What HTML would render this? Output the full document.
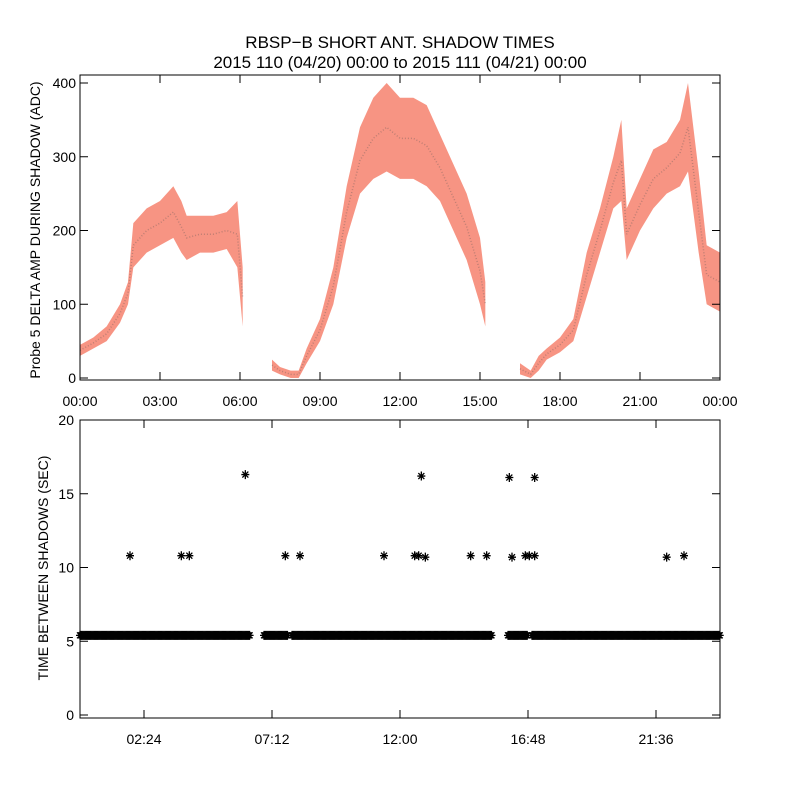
<!DOCTYPE html>
<html><head><meta charset="utf-8"><style>
body{margin:0;background:#fff}
svg text{font-family:"Liberation Sans",sans-serif;fill:#000}
</style></head><body>
<svg id="c" width="800" height="800" xmlns="http://www.w3.org/2000/svg">
<rect width="800" height="800" fill="#fff"/>
<text x="400" y="48" font-size="17" text-anchor="middle">RBSP−B SHORT ANT. SHADOW TIMES</text>
<text x="400" y="68" font-size="17" text-anchor="middle">2015 110 (04/20) 00:00 to 2015 111 (04/21) 00:00</text>
<g id="topg"></g>
<g id="botg"></g>
<text transform="translate(40,230) rotate(-90)" font-size="14" text-anchor="middle">Probe 5 DELTA AMP DURING SHADOW (ADC)</text>
<text transform="translate(48,568) rotate(-90)" font-size="14" text-anchor="middle">TIME BETWEEN SHADOWS (SEC)</text>
</svg>
<script>
const segA_t=[0,0.5,1,1.5,1.8,2.0,2.5,3.0,3.5,3.8,4.0,4.5,5.0,5.5,5.9,6.1];
const segA_lo=[30,40,50,75,100,150,170,180,190,170,160,170,170,175,150,70];
const segA_hi=[45,55,70,100,130,210,230,240,260,240,220,220,220,225,240,150];
const segB_t=[7.2,7.5,7.9,8.2,8.5,9,9.5,10,10.5,11,11.5,12,12.5,13,13.5,14,14.5,15,15.2];
const segB_lo=[10,5,0,0,20,50,100,190,250,270,280,270,270,260,240,200,160,100,70];
const segB_hi=[25,15,10,10,40,80,150,260,340,380,400,380,380,370,330,290,250,190,130];
const segC_t=[16.5,16.9,17.2,17.5,18,18.5,19,19.5,20,20.3,20.5,21,21.5,22,22.5,22.8,23.2,23.5,24];
const segC_lo=[5,0,10,25,35,50,110,170,230,240,160,200,230,250,260,280,170,100,90];
const segC_hi=[20,10,30,40,55,80,170,230,300,350,230,270,310,320,350,400,280,180,170];
const topYTicks=[0,100,200,300,400];
const topXTicks=["00:00","03:00","06:00","09:00","12:00","15:00","18:00","21:00","00:00"];
const baseVal=5.4;
const baseSegStart=[0,6.9,7.95,16.05,16.95];
const baseSegEnd=[6.4,7.8,15.45,16.8,24];
const outT=[1.875,3.8,4.1,6.2,7.7,8.25,11.4,12.55,12.7,12.8,12.95,14.65,15.25,16.1,16.2,16.7,16.85,17.05,17.05,22.0,22.65];
const outV=[10.8,10.8,10.8,16.3,10.8,10.8,10.8,10.8,10.8,16.2,10.7,10.8,10.8,16.1,10.7,10.8,10.8,16.1,10.8,10.7,10.8];
const botYTicks=[0,5,10,15,20];
const botXTickH=[2.4,7.2,12,16.8,21.6];
const botXTicks=["02:24","07:12","12:00","16:48","21:36"];

const NS="http://www.w3.org/2000/svg";
const X0=80,X1=720;
const xs=h=>X0+h*(X1-X0)/24;
const ty=v=>378-v*0.7375;
const by=v=>715-v*14.75;
function mk(p,tag,a){const e=document.createElementNS(NS,tag);for(const k in a)e.setAttribute(k,a[k]);p.appendChild(e);return e;}
const topG=document.getElementById('topg'),botG=document.getElementById('botg');

[[segA_t,segA_lo,segA_hi],[segB_t,segB_lo,segB_hi],[segC_t,segC_lo,segC_hi]].forEach((s,i)=>{
  let pts=s[0].map((t,j)=>xs(t)+','+ty(s[2][j]));
  for(let j=s[0].length-1;j>=0;j--)pts.push(xs(s[0][j])+','+ty(s[1][j]));
  const p=mk(topG,'polygon',{points:pts.join(' '),fill:'#f03c1e','fill-opacity':'0.55'});
  
  
  const mid=s[0].map((t,j)=>xs(t)+','+ty((s[1][j]+s[2][j])/2)).join(' ');
  const l=mk(topG,'polyline',{points:mid,fill:'none',stroke:'#555','stroke-width':1.5,'stroke-opacity':0.35,'stroke-dasharray':'1 2'});
  
  
});
const tf=mk(topG,'rect',{x:X0,y:75,width:X1-X0,height:305,fill:'none',stroke:'#000'});


topYTicks.forEach(v=>{
  mk(topG,'line',{x1:X0,x2:X0+8,y1:ty(v),y2:ty(v),stroke:'#000'});
  mk(topG,'line',{x1:X1,x2:X1-8,y1:ty(v),y2:ty(v),stroke:'#000'});
  const t=mk(topG,'text',{x:X0-4,y:ty(v)+5,'font-size':14,'text-anchor':'end'});t.textContent=v;
  
  
});
topXTicks.forEach((s,i)=>{
  const x=xs(i*3);
  mk(topG,'line',{x1:x,x2:x,y1:380,y2:372,stroke:'#000'});
  mk(topG,'line',{x1:x,x2:x,y1:75,y2:83,stroke:'#000'});
  const t=mk(topG,'text',{x:x,y:406,'font-size':14,'text-anchor':'middle'});t.textContent=s;
  
  
});

function star(x,y){
  return mk(botG,'path',{d:`M${x-4},${y}h8M${x},${y-4.5}v9M${x-3},${y-3}l6,6M${x-3},${y+3}l6,-6`,stroke:'#000','stroke-width':1.3});
}
baseSegStart.forEach((s,i)=>{
  for(let h=s;h<=baseSegEnd[i];h+=0.04){star(xs(h),by(baseVal));}
});
outT.forEach((t,i)=>{
  const s=star(xs(t),by(outV[i]));
  
  
});
const bf=mk(botG,'rect',{x:X0,y:420,width:X1-X0,height:298,fill:'none',stroke:'#000'});


botYTicks.forEach(v=>{
  mk(botG,'line',{x1:X0,x2:X0+8,y1:by(v),y2:by(v),stroke:'#000'});
  mk(botG,'line',{x1:X1,x2:X1-8,y1:by(v),y2:by(v),stroke:'#000'});
  const t=mk(botG,'text',{x:X0-6,y:by(v)+5,'font-size':14,'text-anchor':'end'});t.textContent=v;
  
  
});
botXTickH.forEach((h,i)=>{
  const x=xs(h);
  mk(botG,'line',{x1:x,x2:x,y1:718,y2:710,stroke:'#000'});
  mk(botG,'line',{x1:x,x2:x,y1:420,y2:428,stroke:'#000'});
  const t=mk(botG,'text',{x:x,y:744,'font-size':14,'text-anchor':'middle'});t.textContent=botXTicks[i];
  
  
});
</script>
</body></html>
